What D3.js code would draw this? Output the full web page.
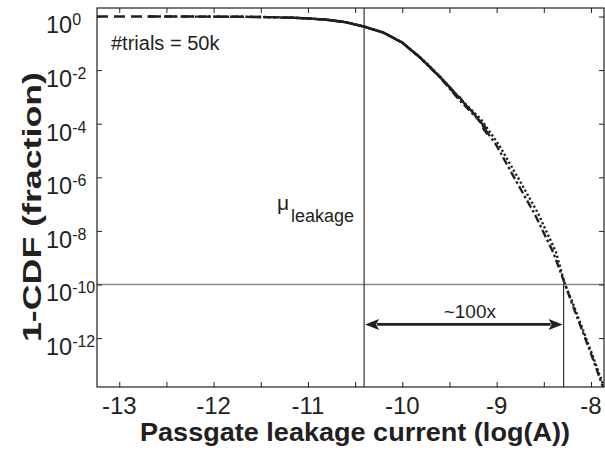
<!DOCTYPE html>
<html><head><meta charset="utf-8">
<script src="https://cdn.jsdelivr.net/npm/d3@7"></script>
<style>
html,body{margin:0;padding:0;background:#fff;}
svg{display:block;font-family:"Liberation Sans",Arial,Helvetica,sans-serif;}
</style></head><body>
<svg id="chart" width="605" height="456"></svg>
<script>
// x: log10 of passgate leakage current (A); y: log10 of the tail probability 1-CDF
const xTickValues = [-13, -12, -11, -10, -9, -8];
const xMinorTicks = [-12.5, -11.5, -10.5, -9.5, -8.5];
const yTickExponents = [0, -2, -4, -6, -8, -10, -12];

// Monte Carlo estimate (solid), limited by the number of trials
const mcX = [-11.20, -11.00, -10.80, -10.60, -10.40, -10.20, -10.00, -9.80, -9.60, -9.48, -9.42, -9.39, -9.37, -9.33, -9.30, -9.25, -9.20, -9.16, -9.13, -9.115, -9.135, -9.145, -9.12, -9.10];
const mcY = [-0.04, -0.07, -0.12, -0.22, -0.39, -0.60, -0.98, -1.57, -2.26, -2.70, -2.95, -3.02, -3.12, -3.30, -3.40, -3.58, -3.82, -3.98, -4.08, -4.17, -4.22, -4.14, -4.28, -4.40];

// dashed estimate
const dashedX = [-13.236, -12.8, -12.4, -12.0, -11.7, -11.4, -11.1, -10.8, -10.6, -10.4, -10.2, -10.0, -9.8, -9.6, -9.45];
const dashedY = [0, 0, 0, -0.005, -0.012, -0.025, -0.055, -0.12, -0.21, -0.38, -0.60, -0.97, -1.56, -2.25, -2.85];

// dash-dot estimate
const dashDotX = [-12.70, -12.30, -12.00, -11.70, -11.40, -11.10, -10.80, -10.60, -10.40, -10.20, -10.00, -9.80, -9.60, -9.40, -9.20, -9.00, -8.80, -8.60, -8.40, -8.20, -8.00, -7.86];
const dashDotY = [0, -0.002, -0.005, -0.012, -0.026, -0.058, -0.12, -0.21, -0.38, -0.60, -0.98, -1.57, -2.27, -3.10, -3.82, -4.82, -6.10, -7.35, -8.80, -10.72, -12.58, -13.95];

// dotted estimate
const dottedX = [-12.20, -11.90, -11.60, -11.30, -11.00, -10.80, -10.60, -10.40, -10.20, -10.00, -9.80, -9.60, -9.38, -9.17, -8.97, -8.76, -8.56, -8.37, -8.28, -8.19, -7.99, -7.85];
const dottedY = [-0.003, -0.006, -0.012, -0.03, -0.07, -0.12, -0.21, -0.38, -0.60, -0.97, -1.55, -2.24, -3.10, -3.82, -4.82, -6.10, -7.35, -8.80, -9.95, -10.72, -12.58, -13.95];

const muLeakage = -10.405;     // mean leakage, log10(A)
const tailAtTarget = -8.29;    // leakage where 1-CDF reaches the target
const targetExp = -10;         // target probability 1e-10
const arrowExp = -11.49;       // height of the ratio arrow
const trialsLabel = "#trials = 50k";
const ratioLabel = "~100x";
const xTitle = "Passgate leakage current (log(A))";
const yTitle = "1-CDF (fraction)";

const plot = {left: 97, right: 604, top: 8, bottom: 387};
const ink = "#231f20";

const svg = d3.select("#chart");

const x = d3.scaleLinear().domain([-13.236, -7.862]).range([plot.left, plot.right]);
const y = d3.scaleLog().domain([Math.pow(10, 0.317), Math.pow(10, -13.825)]).range([plot.top, plot.bottom]);
const p10 = e => Math.pow(10, e);

svg.append("defs").append("clipPath").attr("id", "plotClip")
  .append("rect").attr("x", plot.left).attr("y", plot.top)
  .attr("width", plot.right - plot.left).attr("height", plot.bottom - plot.top);

// reference lines
svg.append("line")
  .attr("x1", plot.left).attr("x2", plot.right)
  .attr("y1", y(p10(targetExp))).attr("y2", y(p10(targetExp)))
  .attr("stroke", "#8a8a8a").attr("stroke-width", 1.6);
svg.append("line")
  .attr("x1", x(muLeakage)).attr("x2", x(muLeakage))
  .attr("y1", plot.top).attr("y2", plot.bottom)
  .attr("stroke", ink).attr("stroke-width", 1.1);
svg.append("line")
  .attr("x1", x(tailAtTarget)).attr("x2", x(tailAtTarget))
  .attr("y1", y(p10(targetExp))).attr("y2", plot.bottom)
  .attr("stroke", ink).attr("stroke-width", 1.1);

// curves
const line = d3.line().x(d => x(d[0])).y(d => y(p10(d[1])));
const curves = svg.append("g").attr("clip-path", "url(#plotClip)")
  .attr("fill", "none").attr("stroke", ink).attr("stroke-width", 2.4);
const zip = (a, b) => a.map((v, i) => [v, b[i]]);
curves.append("path").attr("d", line(zip(dashedX, dashedY))).attr("stroke-dasharray", "11,6");
curves.append("path").attr("d", line(zip(dashDotX, dashDotY))).attr("stroke-dasharray", "8,3,2.5,3");
curves.append("path").attr("d", line(zip(dottedX, dottedY))).attr("stroke-dasharray", "2.2,2.4");
curves.append("path").attr("d", line(zip(mcX, mcY))).attr("stroke-width", 2.4);

// frame
svg.append("rect").attr("x", plot.left).attr("y", plot.top)
  .attr("width", plot.right - plot.left).attr("height", plot.bottom - plot.top)
  .attr("fill", "none").attr("stroke", ink).attr("stroke-width", 1.2);

// ticks pointing into the plot on all four sides
const allX = xTickValues.concat(xMinorTicks);
const tickLen = 5;
svg.append("g").attr("transform", `translate(0,${plot.bottom})`)
  .call(d3.axisBottom(x).tickValues(allX).tickSize(-tickLen).tickFormat(""))
  .call(g => g.select(".domain").remove());
svg.append("g").attr("transform", `translate(0,${plot.top})`)
  .call(d3.axisTop(x).tickValues(allX).tickSize(-tickLen).tickFormat(""))
  .call(g => g.select(".domain").remove());
const yTickVals = yTickExponents.map(p10);
svg.append("g").attr("transform", `translate(${plot.left},0)`)
  .call(d3.axisLeft(y).tickValues(yTickVals).tickSize(-tickLen).tickFormat(""))
  .call(g => g.select(".domain").remove());
svg.append("g").attr("transform", `translate(${plot.right},0)`)
  .call(d3.axisRight(y).tickValues(yTickVals).tickSize(-tickLen).tickFormat(""))
  .call(g => g.select(".domain").remove());
svg.selectAll(".tick line").attr("stroke", ink).attr("stroke-width", 1);

// x tick labels
svg.append("g").selectAll("text").data(xTickValues).join("text")
  .attr("x", d => x(d)).attr("y", 414)
  .attr("text-anchor", "middle").attr("font-size", 24).attr("fill", ink)
  .text(d => String(d));

// y tick labels as powers of ten
const yl = svg.append("g").selectAll("text").data(yTickExponents).join("text")
  .attr("x", 46).attr("y", d => y(p10(d)) + 17)
  .attr("font-size", 23.5).attr("fill", ink);
yl.append("tspan").text("10");
yl.append("tspan").attr("font-size", 16).attr("dy", -8).text(d => String(d));

// axis titles
svg.append("text").attr("x", 355).attr("y", 441)
  .attr("text-anchor", "middle").attr("font-size", 26).attr("font-weight", "bold")
  .attr("textLength", 430).attr("lengthAdjust", "spacingAndGlyphs")
  .attr("fill", ink).text(xTitle);
svg.append("text").attr("transform", "translate(41,207) rotate(-90)")
  .attr("text-anchor", "middle").attr("font-size", 25).attr("font-weight", "bold")
  .attr("textLength", 270).attr("lengthAdjust", "spacingAndGlyphs")
  .attr("fill", ink).text(yTitle);

// annotations
svg.append("text").attr("x", 111).attr("y", 50).attr("font-size", 20)
  .attr("fill", ink).text(trialsLabel);

const mu = svg.append("text").attr("fill", ink);
mu.append("tspan").attr("x", 277).attr("y", 210).attr("font-size", 21).text("\u03bc");
mu.append("tspan").attr("x", 291).attr("y", 222).attr("font-size", 18).text("leakage");

// double-headed arrow spanning the mean and the tail point
const ay = y(p10(arrowExp));
const ax1 = x(muLeakage) + 1, ax2 = x(tailAtTarget) - 1;
const headL = 14, headW = 5.5;
svg.append("line").attr("x1", ax1 + headL - 2).attr("x2", ax2 - headL + 2)
  .attr("y1", ay).attr("y2", ay).attr("stroke", ink).attr("stroke-width", 2.6);
svg.append("path")
  .attr("d", `M${ax1},${ay} L${ax1 + headL},${ay - headW} L${ax1 + headL - 3},${ay} L${ax1 + headL},${ay + headW} Z`)
  .attr("fill", ink);
svg.append("path")
  .attr("d", `M${ax2},${ay} L${ax2 - headL},${ay - headW} L${ax2 - headL + 3},${ay} L${ax2 - headL},${ay + headW} Z`)
  .attr("fill", ink);
svg.append("text").attr("x", (ax1 + ax2) / 2 + 6).attr("y", 318)
  .attr("text-anchor", "middle").attr("font-size", 19).attr("fill", ink).text(ratioLabel);
</script>
</body></html>
